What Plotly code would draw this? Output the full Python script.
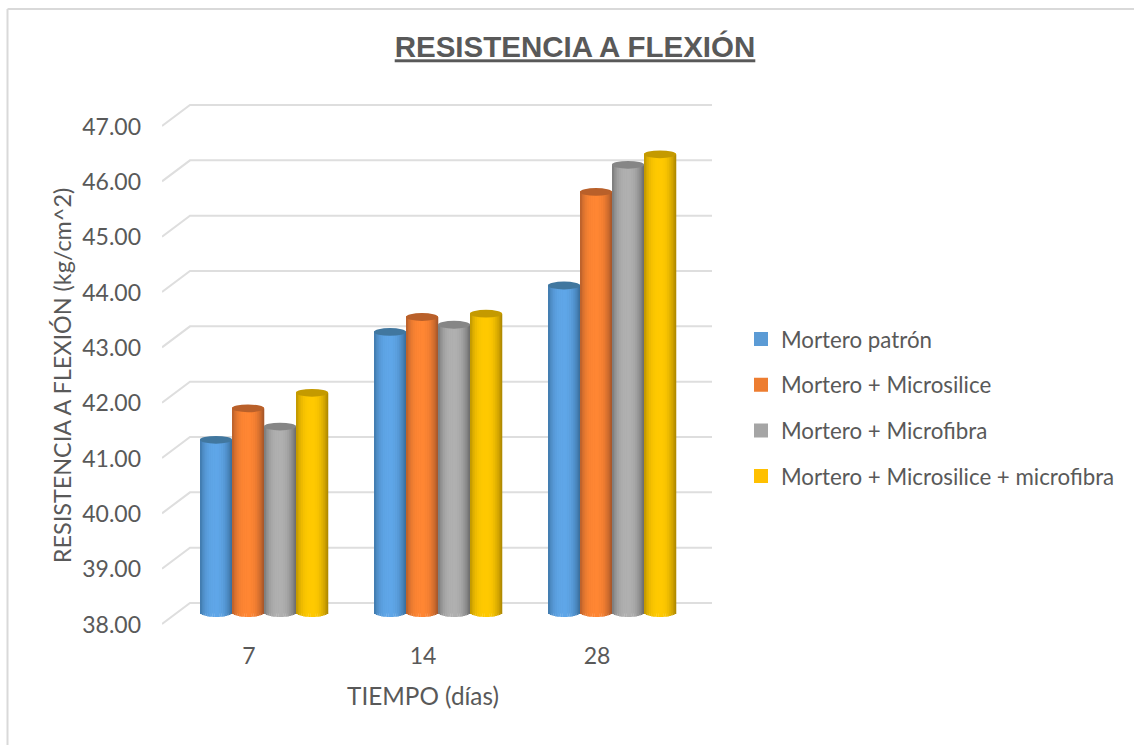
import plotly.graph_objects as go

# Flexural strength of the four mortar mixes at each curing age
categories = ["7", "14", "28"]
series_names = [
    "Mortero patrón",
    "Mortero + Microsilice",
    "Mortero + Microfibra",
    "Mortero + Microsilice + microfibra",
]
mortero_patron = [41.12, 43.07, 43.91]
mortero_microsilice = [41.69, 43.34, 45.60]
mortero_microfibra = [41.36, 43.20, 46.09]
mortero_ambos = [41.97, 43.40, 46.28]
series_values = [mortero_patron, mortero_microsilice, mortero_microfibra, mortero_ambos]

# Legend colour, brightest shade, edge shade and cap shade for each cylinder
legend_colors = ["#5B9BD5", "#ED7D31", "#A5A5A5", "#FFC000"]
centre_colors = ["#5FA6E8", "#FF8633", "#B0B0B0", "#FFC900"]
edge_colors = ["#3A6F9E", "#A8572A", "#6E6E6E", "#B08A00"]
cap_colors = ["#41779F", "#B9602A", "#868686", "#C49A00"]

W, H = 1134, 745
Y_MIN, Y_MAX = 38, 47
PX_PER_UNIT = 498 / (Y_MAX - Y_MIN)
PX_PER_CAT = 174
BAR_PX = 32
CAP_PX = 3.9
BASE_PX = 4.5
STRIPS = 18


def fx(px):
    return px / W


def fy(px):
    return 1 - px / H


def hex_mix(a, b, t):
    ca = [int(a[i:i + 2], 16) for i in (1, 3, 5)]
    cb = [int(b[i:i + 2], 16) for i in (1, 3, 5)]
    return "#" + "".join(f"{round(p + (q - p) * t):02x}" for p, q in zip(ca, cb))


fig = go.Figure()

# Walls: each level runs up the slanted side wall, then straight along the back wall
depth_x = 28 / PX_PER_CAT
depth_y = 21 / PX_PER_UNIT
wall_pad = 3 / PX_PER_UNIT
wall_x, wall_y = [], []
for v in range(Y_MIN, Y_MAX + 1):
    wall_x += [-0.5 - depth_x, -0.5, 2.5, None]
    wall_y += [v - depth_y, v, v, None]
fig.add_trace(go.Scatter(
    x=wall_x, y=wall_y, mode="lines", line=dict(color="#DEDEDE", width=2),
    showlegend=False, hoverinfo="skip", xaxis="x", yaxis="y",
))

# Front plane: only carries the axis labels and titles
fig.add_trace(go.Scatter(
    x=[0, 1, 2], y=[Y_MIN, Y_MIN, Y_MIN], mode="markers", marker=dict(opacity=0),
    showlegend=False, hoverinfo="skip", xaxis="x2", yaxis="y2",
))

# Cylinders: a flat base bar per series with shaded strips laid over it
half = BAR_PX / PX_PER_CAT / 2
for s, (name, values) in enumerate(zip(series_names, series_values)):
    centre = (s - 1.5) * BAR_PX / PX_PER_CAT
    core = (BAR_PX - 2) / PX_PER_CAT
    fig.add_trace(go.Bar(
        x=[0, 1, 2], y=[v - Y_MIN for v in values], base=Y_MIN, name=name,
        width=core, offset=centre - core / 2,
        marker=dict(color=legend_colors[s], line=dict(color=legend_colors[s], width=2)),
        legendgroup=name, xaxis="x3", yaxis="y3",
    ))
    dw = 2 * half / STRIPS
    for k in range(STRIPS):
        t = -1 + (2 * k + 1) / STRIPS
        bulge = (1 - t * t) ** 0.5 * BASE_PX / PX_PER_UNIT
        base = Y_MIN - bulge
        light = 1 - abs(t + 0.05) ** 2.6
        fig.add_trace(go.Bar(
            x=[0, 1, 2], y=[v - base for v in values], base=base,
            width=dw * 1.15, offset=centre - half + k * dw,
            marker=dict(color=hex_mix(edge_colors[s], centre_colors[s], light), line=dict(width=0)),
            legendgroup=name, showlegend=False, hoverinfo="skip", xaxis="x3", yaxis="y3",
        ))
    for c, v in enumerate(values):
        x_mid = c + centre
        dy = CAP_PX / PX_PER_UNIT
        fig.add_shape(
            type="circle", xref="x3", yref="y3", x0=x_mid - half, x1=x_mid + half,
            y0=v - dy, y1=v + dy, fillcolor=cap_colors[s], line=dict(width=0), layer="above",
        )

pad = 0.2
fig.update_layout(
    width=W, height=H, margin=dict(l=0, r=0, t=0, b=0, autoexpand=False), autosize=False,
    paper_bgcolor="white", plot_bgcolor="rgba(0,0,0,0)", barmode="overlay",
    font=dict(family="Lato, sans-serif", color="#595959", size=23),
    xaxis=dict(domain=[fx(162), fx(712)], range=[-0.5 - depth_x, 2.5], visible=False, anchor="y"),
    yaxis=dict(
        domain=[fy(627), fy(102)], range=[Y_MIN - depth_y - wall_pad, Y_MAX + wall_pad],
        visible=False, anchor="x",
    ),
    xaxis2=dict(
        domain=[fx(162), fx(684)], range=[-0.5, 2.5], tickmode="array", tickvals=[0, 1, 2],
        ticktext=categories, showgrid=False, zeroline=False, showline=False, ticks="",
        ticklen=0, ticklabelstandoff=15, tickfont=dict(size=23), anchor="y2",
        title=dict(text="TIEMPO (días)", font=dict(size=24.3), standoff=20),
    ),
    yaxis2=dict(
        domain=[fy(624.5), fy(126.5)], range=[Y_MIN, Y_MAX], dtick=1, tickformat=".2f",
        showgrid=False, zeroline=False, showline=False, ticks="", ticklabelstandoff=20,
        tickfont=dict(size=23), anchor="x2",
        title=dict(text="RESISTENCIA A FLEXIÓN (kg/cm^2)", font=dict(size=23.4), standoff=4),
    ),
    xaxis3=dict(domain=[fx(177), fx(699)], range=[-0.5, 2.5], visible=False, anchor="y3"),
    yaxis3=dict(
        domain=[fy(612.5 + pad * PX_PER_UNIT), fy(114.5 - pad * PX_PER_UNIT)],
        range=[Y_MIN - pad, Y_MAX + pad], visible=False, anchor="x3",
    ),
    title=dict(
        text="<u>RESISTENCIA A FLEXIÓN</u>", x=fx(575), xanchor="center", y=fy(47), yanchor="middle",
        font=dict(family="Liberation Sans, Arial, sans-serif", size=29.5, color="#595959", weight="bold"),
    ),
    legend=dict(
        x=fx(741), y=fy(318), xanchor="left", yanchor="top", tracegroupgap=13.7,
        font=dict(size=22.3, color="#595959"), bgcolor="rgba(0,0,0,0)", itemclick=False, itemdoubleclick=False,
    ),
    shapes=list(fig.layout.shapes) + [
        dict(type="line", xref="paper", yref="paper", x0=fx(7.5), x1=fx(7.5), y0=fy(9), y1=fy(745),
             line=dict(color="#D9D9D9", width=2)),
        dict(type="line", xref="paper", yref="paper", x0=fx(7.5), x1=fx(1134), y0=fy(9), y1=fy(9),
             line=dict(color="#D9D9D9", width=2)),
    ],
)

fig.write_html("out.html")
